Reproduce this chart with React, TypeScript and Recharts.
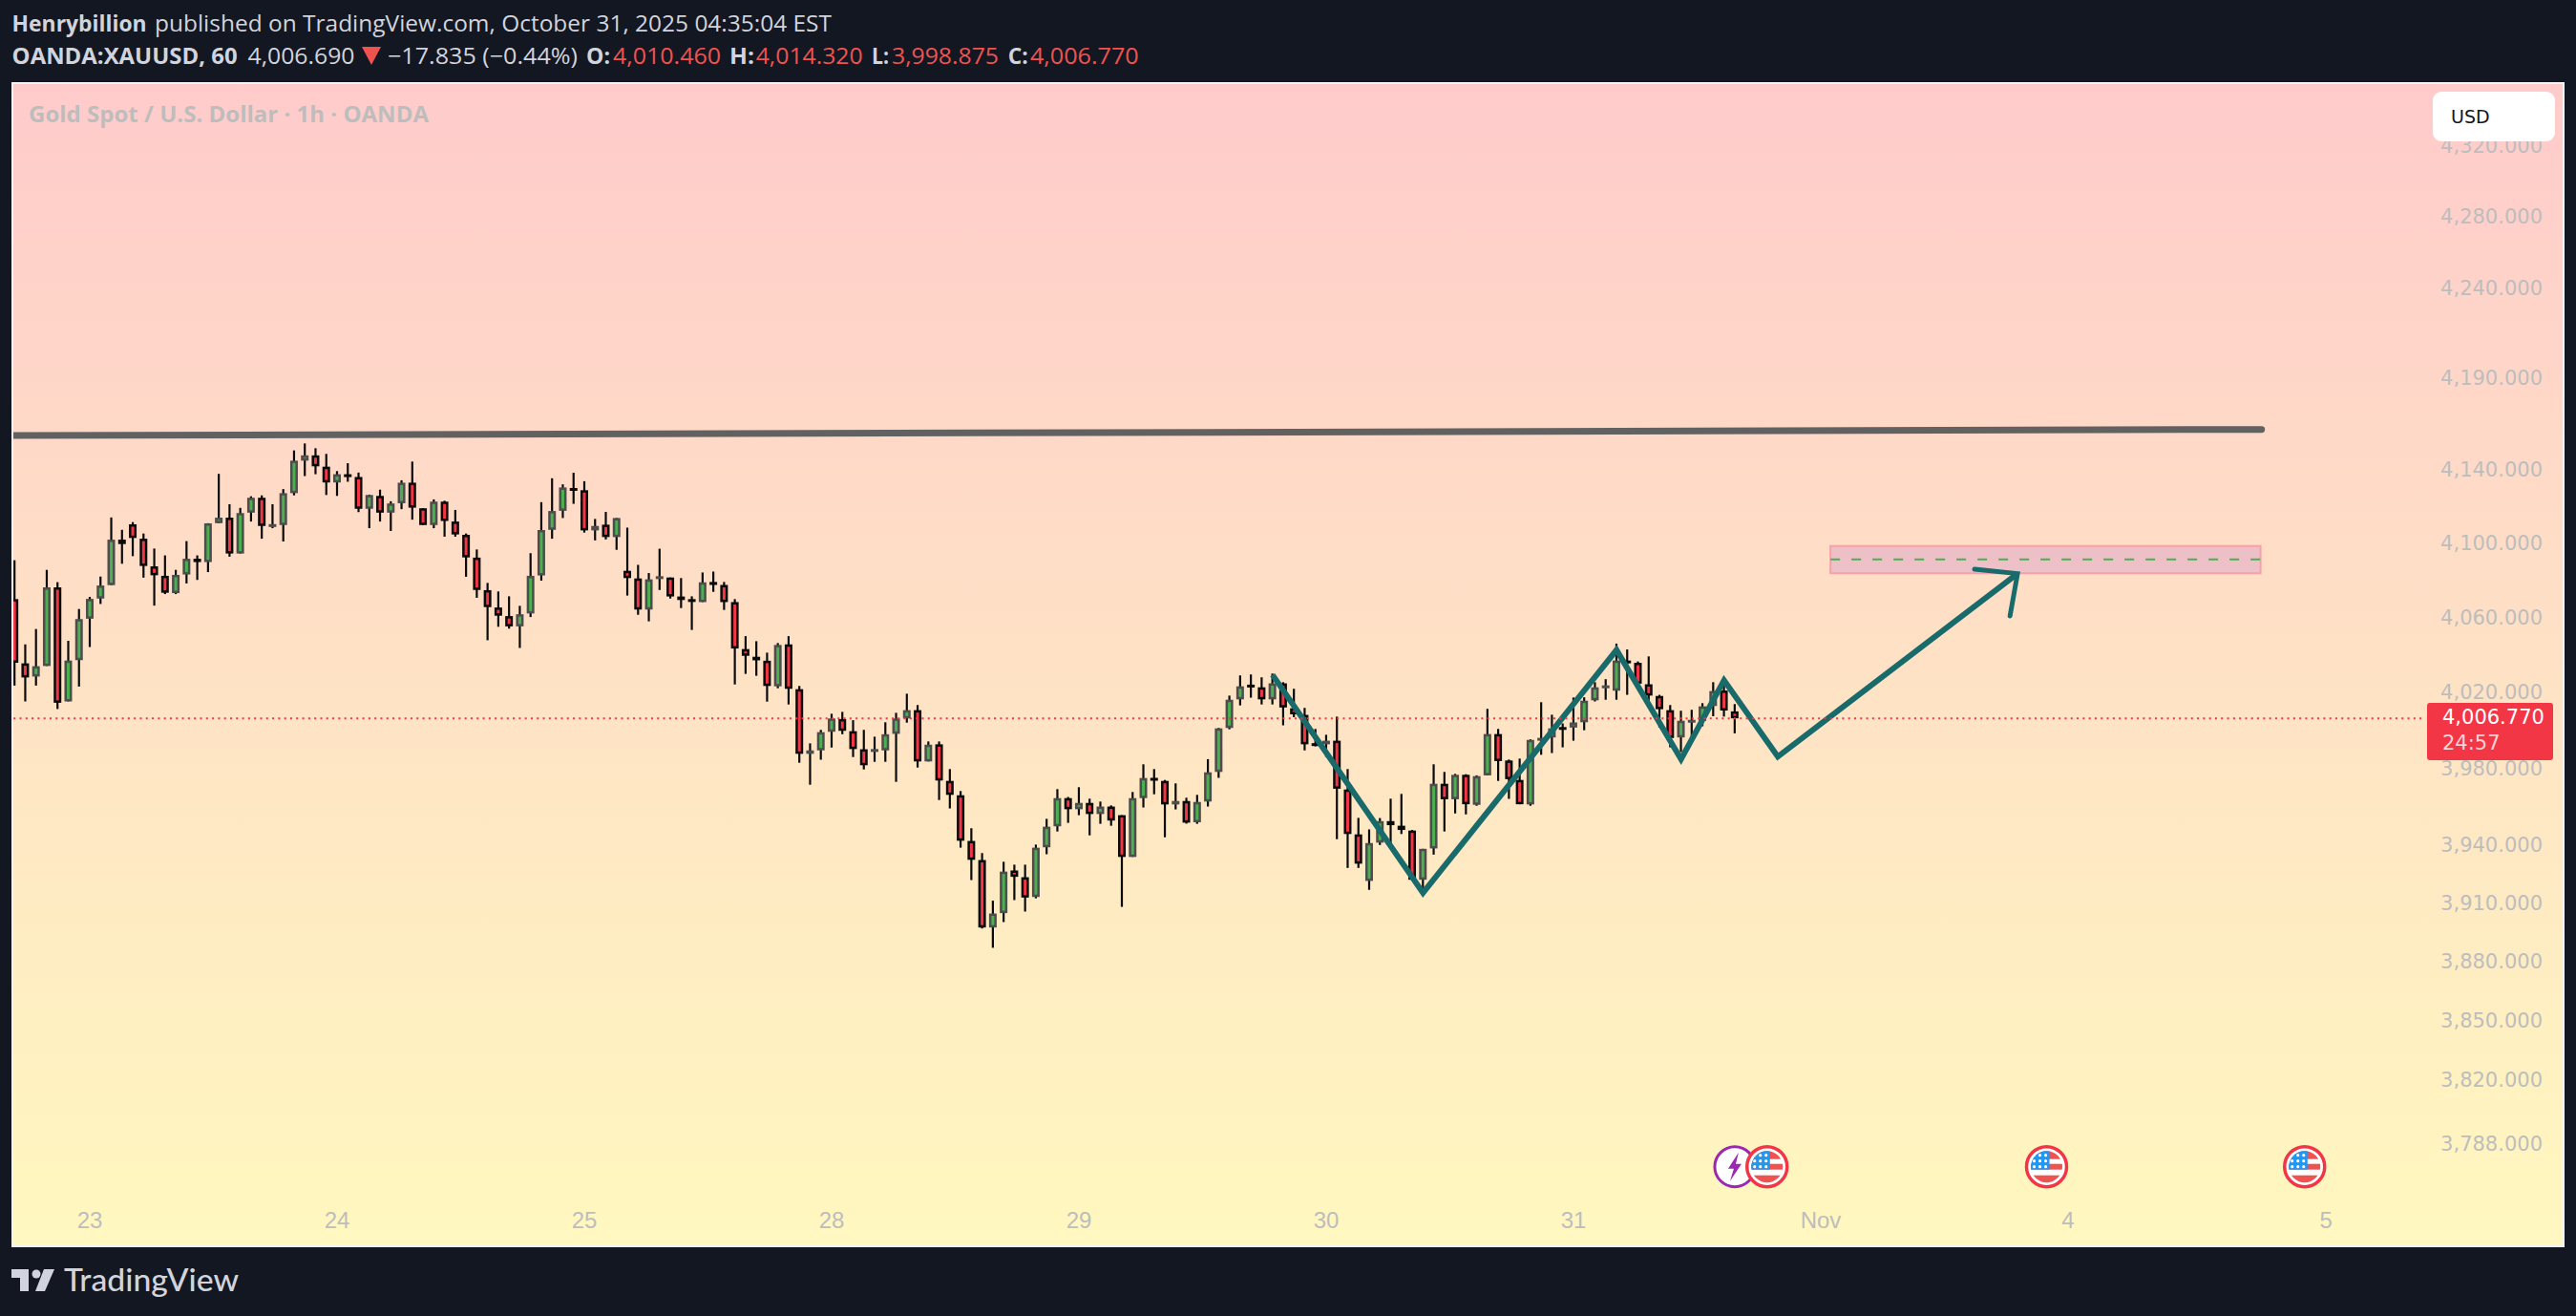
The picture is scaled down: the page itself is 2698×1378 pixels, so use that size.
import { ComposedChart, Bar, Line, Scatter, XAxis, YAxis, ReferenceArea, ReferenceLine } from "recharts";

// OHLC, one entry per candle
const highs = [
  4091.1,4046.0,4054.2,4085.9,4079.3,4047.9,4064.9,4071.4,4082.3,4114.2,
  4107.5,4111.7,4105.5,4097.4,4093.7,4085.9,4101.4,4093.7,4111.1,4137.9,
  4121.4,4119.4,4125.7,4126.2,4121.4,4129.6,4150.7,4154.5,4151.9,4148.8,
  4139.4,4143.7,4138.6,4126.6,4129.3,4123.0,4134.4,4144.6,4119.2,4124.0,
  4123.3,4118.3,4105.5,4096.9,4078.9,4074.3,4071.7,4066.6,4094.9,4122.5,
  4135.5,4132.2,4138.5,4133.9,4113.4,4117.2,4113.9,4108.7,4088.6,4084.2,
  4097.3,4081.8,4081.5,4071.7,4084.5,4085.0,4079.4,4070.2,4050.4,4047.7,
  4041.6,4046.7,4050.4,4023.9,3993.6,4000.7,4009.2,4010.2,4005.8,4000.7,
  3997.1,4004.7,4009.7,4019.8,4013.8,3994.6,3994.6,3980.1,3968.6,3949.2,
  3936.3,3911.7,3931.8,3930.3,3930.3,3940.7,3954.1,3969.6,3965.5,3970.6,
  3964.6,3963.1,3961.1,3956.0,3968.1,3982.6,3980.1,3974.4,3972.6,3965.1,
  3966.6,3985.3,4001.7,4018.8,4029.5,4030.0,4028.5,4030.5,4025.9,4022.4,
  4012.3,4001.2,3998.1,4007.7,3980.1,3954.6,3948.6,3954.5,3964.6,3967.1,
  3948.3,3938.5,3982.6,3978.6,3977.6,3977.4,3976.8,4011.8,4001.2,3985.1,
  3985.6,3995.7,4015.3,4008.7,4004.1,4017.8,4017.9,4025.9,4027.5,4046.4,
  4043.3,4036.9,4039.6,4019.2,4013.8,4010.8,4011.3,4014.8,4025.9,4027.5,4014.32,
];
const opens = [
  4070.2,4035.9,4028.9,4034.5,4076.5,4015.7,4037.6,4059.7,4070.5,4077.7,
  4102.2,4110.5,4102.7,4087.8,4082.7,4073.4,4083.4,4091.9,4090.1,4111.1,
  4114.1,4094.7,4116.8,4124.9,4110.1,4110.1,4127.4,4145.1,4148.0,4141.8,
  4133.2,4137.7,4136.2,4118.9,4125.9,4116.8,4121.9,4133.1,4119.2,4110.1,
  4122.8,4112.0,4104.8,4092.5,4075.0,4065.7,4061.1,4055.6,4062.5,4082.9,
  4107.5,4117.8,4130.2,4129.0,4107.2,4110.3,4103.6,4085.4,4081.3,4064.6,
  4081.8,4081.8,4071.6,4070.2,4068.6,4079.4,4077.8,4068.6,4043.5,4039.4,
  4037.3,4023.7,4046.0,4022.2,3988.1,3989.9,3999.7,4006.4,4000.0,3990.5,
  3989.9,3989.9,3998.6,4006.7,4011.1,3984.1,3993.1,3973.9,3966.4,3942.6,
  3932.7,3897.9,3905.3,3927.3,3923.8,3913.6,3939.3,3950.2,3964.9,3959.1,
  3962.4,3956.6,3960.5,3956.0,3934.3,3964.9,3975.5,3973.9,3961.6,3963.4,
  3952.3,3963.1,3978.6,4001.7,4016.8,4024.6,4023.2,4016.8,4025.3,4012.1,
  4008.6,3993.7,3993.1,3995.0,3969.4,3946.0,3921.9,3941.7,3952.9,3950.5,
  3948.0,3922.5,3938.7,3972.4,3964.3,3977.1,3961.4,3976.8,3998.5,3984.6,
  3974.4,3961.6,3995.7,3996.7,4002.2,4001.9,4004.7,4016.3,4023.4,4021.4,
  4037.4,4036.2,4024.8,4018.6,4011.1,3996.7,4005.5,4005.4,4013.3,4021.5,4010.46,
];
const closes = [
  4036.2,4028.4,4034.4,4076.5,4015.0,4037.4,4059.5,4070.3,4077.5,4102.2,
  4099.8,4103.1,4088.0,4083.0,4073.6,4083.2,4091.9,4090.1,4111.0,4114.1,
  4094.7,4116.6,4124.9,4109.6,4110.6,4127.4,4145.1,4148.0,4142.0,4133.2,
  4137.7,4136.3,4118.9,4126.4,4116.8,4121.8,4133.1,4119.5,4110.1,4122.8,
  4112.3,4105.0,4092.6,4075.1,4065.9,4061.3,4055.6,4062.1,4082.7,4107.4,
  4117.7,4130.5,4128.8,4107.2,4109.6,4103.6,4113.9,4081.5,4064.6,4080.8,
  4082.5,4071.6,4069.7,4069.5,4079.2,4077.8,4068.6,4043.8,4039.9,4037.5,
  4023.9,4045.7,4022.4,3988.1,3989.9,3999.5,4006.7,4000.2,3990.6,3982.1,
  3990.6,3998.4,4006.7,4011.1,3984.1,3992.9,3974.1,3966.6,3942.7,3932.8,
  3897.9,3905.1,3926.7,3924.0,3913.3,3939.1,3950.0,3964.9,3959.1,3962.4,
  3956.6,3960.5,3953.2,3934.3,3964.9,3975.4,3974.1,3961.6,3963.4,3952.1,
  3962.9,3978.4,4001.5,4016.6,4023.7,4023.9,4016.8,4025.3,4012.5,4008.9,
  3993.1,3993.1,3995.0,3969.8,3946.2,3930.8,3941.5,3952.9,3950.8,3948.3,
  3922.5,3938.5,3972.4,3964.3,3977.1,3961.7,3976.4,3998.5,3984.3,3974.8,
  3961.7,3995.4,3996.5,4001.5,4001.7,4004.6,4016.1,4023.2,4024.2,4037.4,
  4036.5,4025.1,4018.8,4011.6,3996.4,4005.5,4006.0,4013.1,4021.2,4010.9,4006.77,
];
const lows = [
  4024.1,4015.7,4024.1,4034.5,4011.7,4015.7,4023.6,4044.6,4067.6,4077.7,
  4089.2,4093.3,4081.7,4066.7,4072.9,4072.9,4078.6,4080.5,4084.7,4111.1,
  4093.0,4094.7,4112.0,4102.7,4108.4,4101.2,4126.2,4136.7,4137.7,4126.4,
  4125.9,4133.6,4117.1,4108.4,4112.0,4106.9,4118.7,4113.0,4110.1,4108.4,
  4103.8,4103.8,4082.2,4070.9,4048.2,4055.4,4054.4,4044.1,4060.6,4080.1,
  4102.7,4113.9,4121.6,4106.0,4101.8,4102.3,4096.7,4072.1,4061.8,4058.3,
  4075.1,4070.5,4065.4,4053.7,4068.6,4074.1,4064.4,4024.7,4030.3,4029.3,
  4015.6,4022.7,4014.1,3983.4,3971.9,3985.0,3991.4,3998.4,3986.4,3979.9,
  3983.9,3983.9,3973.4,4004.5,3980.9,3984.1,3963.9,3959.5,3939.1,3922.3,
  3897.4,3887.5,3900.7,3912.0,3906.1,3912.9,3935.7,3947.5,3952.0,3956.0,
  3945.5,3951.5,3950.5,3908.5,3934.3,3960.0,3966.9,3944.5,3959.0,3951.6,
  3951.5,3960.5,3975.5,4001.0,4013.6,4017.7,4014.1,4014.1,4003.1,4007.4,
  3989.9,3992.0,3986.5,3943.5,3928.6,3928.6,3917.3,3940.5,3938.7,3946.2,
  3922.5,3916.1,3935.5,3947.5,3956.9,3956.4,3960.9,3976.8,3973.9,3964.5,
  3961.7,3960.9,3987.6,3988.5,3991.5,3995.0,4000.5,4015.7,4016.6,4016.6,
  4019.2,4024.8,4013.0,4001.9,3991.5,3989.0,3994.5,4002.6,4007.9,4007.7,3998.875,
];

const priceTicks = [4320, 4280, 4240, 4190, 4140, 4100, 4060, 4020, 3980, 3940, 3910, 3880, 3850, 3820, 3788];
const dateTicks = [7, 30, 53, 76, 99, 122, 145, 168, 191, 215];
const dateLabels = ["23", "24", "25", "28", "29", "30", "31", "Nov", "4", "5"];

// drawings, in candle index / price
const trendX = [-0.2, 209];
const trendY = [4158.8, 4162.2];
const pathX = [117, 131, 149, 155, 159, 164, 186.3];
const pathY = [4029.8, 3915.7, 4043, 3985.3, 4026.9, 3986.6, 4083.9];
const headX = [182.3, 186.3, 185.6];
const headY = [4086.3, 4083.9, 4061.2];
const zone = { x1: 168.9, x2: 208.9, low: 4084.1, high: 4098.8, mid: 4091.6 };
const lastPrice = 4006.77;
const eventX = [160, 163, 189, 213];
const eventKinds = ["bolt", "flag", "flag", "flag"];
const eventPrice = 3777;

const candles = highs.map((high, i) => ({
  i, high, low: lows[i], open: opens[i], close: closes[i], range: [lows[i], high],
}));
const toPoints = (xs: number[], ys: number[]) => xs.map((i, k) => ({ i, price: ys[k] }));
const trendData = toPoints(trendX, trendY);
const pathData = toPoints(pathX, pathY);
const headData = toPoints(headX, headY);
const eventData = eventX.map((i, k) => ({ i, price: eventPrice, kind: eventKinds[k] }));

const GREY = "#BDBDBD";
const RED = "#F23645";

const Candle = ({ x, y, width, height, payload }: any) => {
  // bar spans low..high, so body is placed inside it on the same log scale
  const lnH = Math.log(payload.high);
  const span = lnH - Math.log(payload.low) || 1;
  const py = (p: number) => y + (height * (lnH - Math.log(p))) / span;
  const cx = x + width / 2;
  const up = payload.close > payload.open;
  const top = py(Math.max(payload.open, payload.close));
  const bottom = py(Math.min(payload.open, payload.close));
  return (
    <g>
      <line x1={cx} x2={cx} y1={y} y2={y + height} stroke="#0a0a0a" strokeWidth={2.2} />
      <rect
        x={cx - 2.75}
        y={top + 1.25}
        width={5.5}
        height={Math.max(bottom - top - 2.5, 0.5)}
        fill={up ? "#4CAF50" : RED}
        stroke={up ? "#4d4d4d" : "#0a0a0a"}
        strokeWidth={2.5}
      />
    </g>
  );
};

const EventBadge = ({ cx, cy, payload }: any) => {
  if (payload.kind === "bolt") {
    return (
      <g>
        <circle cx={cx} cy={cy} r={21} fill="#fff" stroke="#9C27B0" strokeWidth={3} />
        <path
          d={`M${cx + 4} ${cy - 15} L${cx - 7} ${cy + 2} L${cx - 1} ${cy + 2} L${cx - 5} ${cy + 15} L${cx + 7} ${cy - 3} L${cx + 1} ${cy - 3} Z`}
          fill="#9C27B0"
        />
      </g>
    );
  }
  const id = `flag-${Math.round(cx)}`;
  const stars = [-12, -6, 0];
  return (
    <g>
      <defs>
        <clipPath id={id}>
          <circle cx={cx} cy={cy} r={16.5} />
        </clipPath>
      </defs>
      <circle cx={cx} cy={cy} r={21} fill="#fff" stroke={RED} strokeWidth={3.5} />
      <g clipPath={`url(#${id})`}>
        <rect x={cx - 17} y={cy - 17} width={34} height={9} fill="#EF5350" />
        <rect x={cx - 17} y={cy - 3} width={34} height={6} fill="#EF5350" />
        <rect x={cx - 17} y={cy + 9} width={34} height={9} fill="#EF5350" />
        <rect x={cx - 17} y={cy - 17} width={20} height={20} fill="#2196F3" />
        {stars.map((dy) =>
          stars.map((dx) => <circle key={`${dx}${dy}`} cx={cx + dx - 1} cy={cy + dy} r={1.6} fill="#fff" />)
        )}
      </g>
    </g>
  );
};

const PriceTick = ({ x, y, payload }: any) => (
  <text x={x} y={y} dy={6.5} textAnchor="end" fill={GREY} fontSize={21} fontFamily="DejaVu Sans">
    {payload.value.toLocaleString("en-US", { minimumFractionDigits: 3 })}
  </text>
);

const DateTick = ({ x, payload }: any) => (
  <text x={x} y={1198} textAnchor="middle" fill={GREY} fontSize={24} fontFamily="Liberation Sans">
    {dateLabels[dateTicks.indexOf(payload.value)]}
  </text>
);

// text placed to the measured widths of the header row
const Fit = ({ x, y, w, fill, bold, size = 23, children }: any) => (
  <text
    x={x}
    y={y}
    textLength={w}
    lengthAdjust="spacingAndGlyphs"
    fill={fill}
    fontSize={size}
    fontWeight={bold ? 700 : 400}
    fontFamily="Open Sans"
  >
    {children}
  </text>
);

const LIGHT = "#D1D4DC";
const LOSS = "#EF5350";

const Overlay = () => (
  <svg width={2698} height={1378} style={{ position: "absolute", left: 0, top: 0 }}>
    <Fit x={12.6} y={33} w={141} fill={LIGHT} bold>Henrybillion</Fit>
    <Fit x={162} y={33} w={709} fill={LIGHT}>published on TradingView.com, October 31, 2025 04:35:04 EST</Fit>
    <Fit x={12.6} y={66.5} w={236} fill={LIGHT} bold>OANDA:XAUUSD, 60</Fit>
    <Fit x={259.5} y={66.5} w={112} fill={LIGHT}>4,006.690</Fit>
    <path d="M379 49 L399 49 L389 68 Z" fill={LOSS} />
    <Fit x={406} y={66.5} w={199} fill={LIGHT}>−17.835 (−0.44%)</Fit>
    <Fit x={614} y={66.5} w={25} fill={LIGHT} bold>O:</Fit>
    <Fit x={642} y={66.5} w={113} fill={LOSS}>4,010.460</Fit>
    <Fit x={764} y={66.5} w={26} fill={LIGHT} bold>H:</Fit>
    <Fit x={791.7} y={66.5} w={112} fill={LOSS}>4,014.320</Fit>
    <Fit x={913} y={66.5} w={18} fill={LIGHT} bold>L:</Fit>
    <Fit x={934} y={66.5} w={112} fill={LOSS}>3,998.875</Fit>
    <Fit x={1055.7} y={66.5} w={21} fill={LIGHT} bold>C:</Fit>
    <Fit x={1079} y={66.5} w={113.7} fill={LOSS}>4,006.770</Fit>
    <Fit x={30} y={128} w={419} fill={GREY} bold>Gold Spot / U.S. Dollar · 1h · OANDA</Fit>

    <rect x={2548} y={96} width={128} height={52} rx={9} fill="#fff" />
    <text x={2567} y={129} fontSize={19} fontFamily="DejaVu Sans" fill="#131722">USD</text>

    <rect x={2542} y={736} width={132} height={60} rx={3} fill={RED} />
    <text x={2558} y={758} fontSize={21} fontFamily="DejaVu Sans" fill="#fff">4,006.770</text>
    <text x={2558} y={785} fontSize={21} fontFamily="DejaVu Sans" fill="#FFD3D7">24:57</text>

    <path d="M12 1329 H30 V1352 H21 V1338 H12 Z" fill={LIGHT} />
    <circle cx={38} cy={1334} r={4.5} fill={LIGHT} />
    <path d="M46 1329 H57 L47 1352 H37 Z" fill={LIGHT} />
    <text x={67} y={1352} textLength={183} lengthAdjust="spacingAndGlyphs" fontSize={32} fontWeight={500} fontFamily="Lato" fill={LIGHT}>
      TradingView
    </text>
  </svg>
);

export default function App() {
  return (
    <div style={{ position: "absolute", left: 0, top: 0, width: 2698, height: 1378, background: "#131722", overflow: "hidden" }}>
      <div
        style={{
          position: "absolute",
          left: 12,
          top: 86,
          width: 2670,
          height: 1216,
          border: "2px solid #f4f4f6",
          background: "linear-gradient(180deg, #FECBCB 0%, #FFF8BF 100%)",
        }}
      />
      <div style={{ position: "absolute", left: 14, top: 88 }}>
        <ComposedChart width={2670} height={1216} data={candles} margin={{ top: 0, right: 0, bottom: 0, left: 0 }}>
          <XAxis
            dataKey="i"
            type="number"
            domain={[-0.115, 237]}
            allowDataOverflow
            ticks={dateTicks}
            interval={0}
            mirror
            axisLine={false}
            tickLine={false}
            tick={DateTick}
          />
          <YAxis
            scale="log"
            domain={[3738.1, 4355.9]}
            orientation="right"
            mirror
            ticks={priceTicks}
            interval={0}
            axisLine={false}
            tickLine={false}
            tickSize={0}
            tickMargin={21}
            tick={PriceTick}
          />
          <Line data={pathData} dataKey="price" stroke="#186A6B" strokeWidth={6} dot={false} isAnimationActive={false} />
          <Line data={headData} dataKey="price" stroke="#186A6B" strokeWidth={5} strokeLinecap="round" dot={false} isAnimationActive={false} />
          <Line data={trendData} dataKey="price" stroke="#616161" strokeWidth={7} strokeLinecap="round" dot={false} isAnimationActive={false} />
          <Bar dataKey="range" barSize={8} shape={Candle} isAnimationActive={false} />
          <ReferenceLine
            segment={[{ x: -0.1, y: lastPrice }, { x: 223.9, y: lastPrice }]}
            stroke={RED}
            strokeWidth={2}
            strokeDasharray="2 4.3"
          />
          <ReferenceArea
            x1={zone.x1}
            x2={zone.x2}
            y1={zone.low}
            y2={zone.high}
            fill="#AA50D2"
            fillOpacity={0.2}
            stroke="#F8A0A8"
            strokeWidth={2}
          />
          <ReferenceLine
            segment={[{ x: zone.x1, y: zone.mid }, { x: zone.x2, y: zone.mid }]}
            stroke="#4CAF50"
            strokeWidth={2}
            strokeDasharray="10 12"
          />
          <Scatter data={eventData} dataKey="price" shape={EventBadge} isAnimationActive={false} />
        </ComposedChart>
      </div>
      <Overlay />
    </div>
  );
}
